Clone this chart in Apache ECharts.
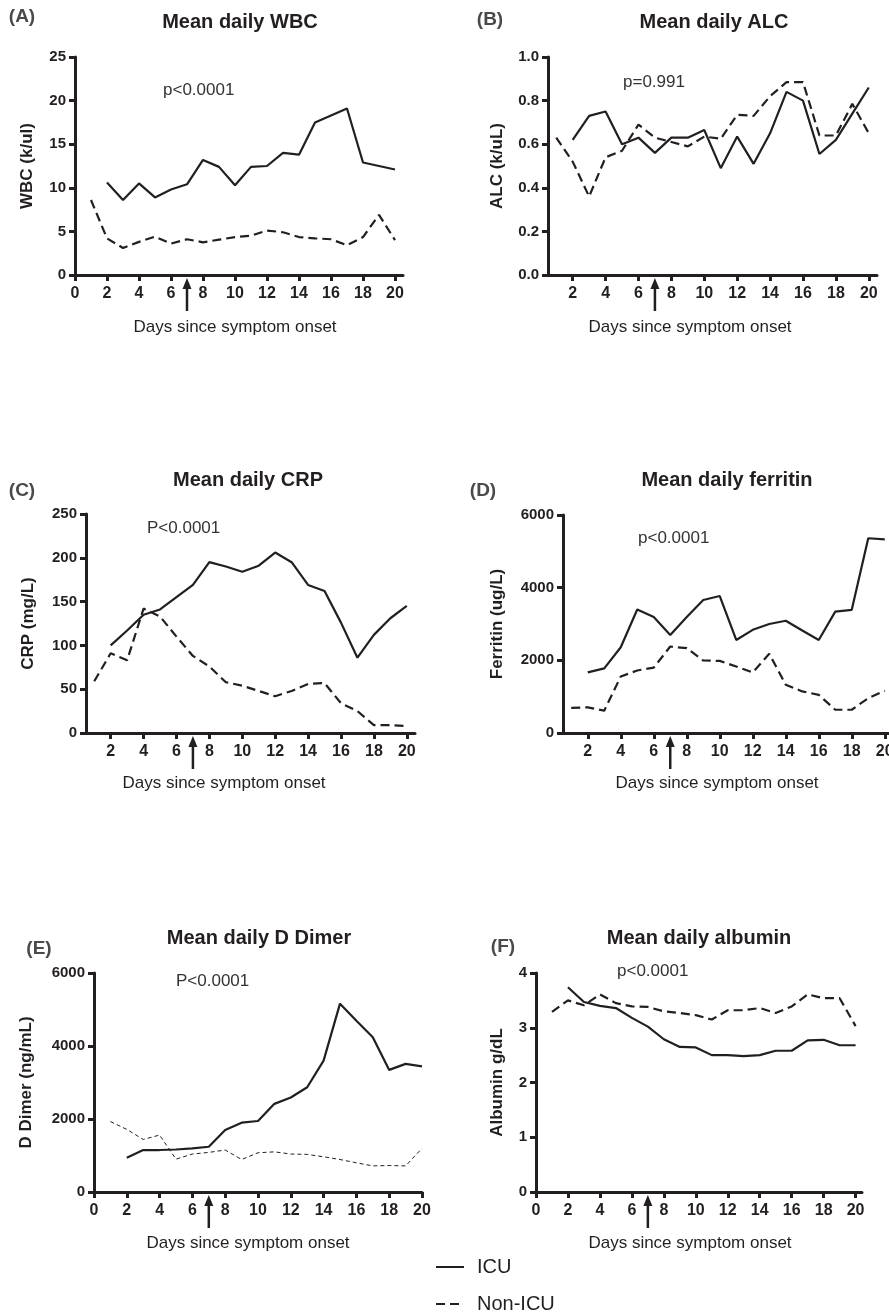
<!DOCTYPE html>
<html>
<head>
<meta charset="utf-8">
<script src="https://cdn.jsdelivr.net/npm/echarts@6/dist/echarts.min.js"></script>
<style>
  html, body { margin: 0; background: #fff; }
  #chart { width: 889px; height: 1314px; }
</style>
</head>
<body>
<div id="chart"></div>
<script>
// days since symptom onset
const days = [1, 2, 3, 4, 5, 6, 7, 8, 9, 10, 11, 12, 13, 14, 15, 16, 17, 18, 19, 20];
const ticksFrom0 = [0, 2, 4, 6, 8, 10, 12, 14, 16, 18, 20];
const ticksFrom2 = [2, 4, 6, 8, 10, 12, 14, 16, 18, 20];

// mean daily values (ICU has no day 1)
const wbcIcu = [null, 10.6, 8.6, 10.5, 8.9, 9.8, 10.4, 13.2, 12.4, 10.3, 12.4, 12.5, 14.0, 13.8, 17.5, 18.3, 19.1, 12.9, 12.5, 12.1];
const wbcNon = [8.6, 4.2, 3.1, 3.8, 4.4, 3.6, 4.1, 3.75, 4.05, 4.35, 4.5, 5.1, 4.9, 4.35, 4.2, 4.1, 3.4, 4.35, 6.9, 4.0];

const alcIcu = [null, 0.62, 0.73, 0.75, 0.60, 0.63, 0.56, 0.63, 0.63, 0.665, 0.49, 0.635, 0.51, 0.65, 0.84, 0.80, 0.555, 0.62, 0.74, 0.86];
const alcNon = [0.63, 0.52, 0.36, 0.54, 0.57, 0.69, 0.63, 0.61, 0.59, 0.635, 0.625, 0.735, 0.73, 0.82, 0.885, 0.885, 0.64, 0.64, 0.785, 0.65];

const crpIcu = [null, 100, 117, 135, 141, 155, 169, 195, 190, 184, 191, 206, 195, 169, 162, 126, 86, 112, 131, 145];
const crpNon = [59, 91, 83, 142, 133, 110, 88, 76, 58, 54, 48, 42, 48, 56, 57, 34, 25, 9, 9, 8];

const ferIcu = [null, 1670, 1780, 2360, 3400, 3190, 2700, 3190, 3660, 3770, 2560, 2840, 3000, 3090, 2820, 2560, 3340, 3390, 5360, 5330];
const ferNon = [690, 705, 615, 1555, 1720, 1800, 2380, 2335, 1995, 1985, 1830, 1665, 2180, 1330, 1145, 1050, 640, 640, 960, 1160];

const ddIcu = [null, 940, 1150, 1150, 1165, 1195, 1240, 1700, 1900, 1945, 2415, 2590, 2870, 3600, 5160, 4690, 4240, 3345, 3510, 3440];
const ddNon = [1930, 1715, 1440, 1560, 900, 1040, 1085, 1150, 890, 1075, 1100, 1040, 1030, 965, 890, 800, 715, 725, 715, 1195];

const albIcu = [null, 3.74, 3.47, 3.40, 3.36, 3.18, 3.02, 2.79, 2.65, 2.64, 2.50, 2.50, 2.48, 2.50, 2.58, 2.58, 2.77, 2.78, 2.68, 2.68];
const albNon = [3.29, 3.50, 3.41, 3.61, 3.45, 3.39, 3.38, 3.30, 3.27, 3.23, 3.15, 3.32, 3.32, 3.36, 3.27, 3.39, 3.61, 3.54, 3.54, 3.03];

const INK = '#231f20';
const FONT = 'Arial, "Liberation Sans", sans-serif';

// one entry per panel
const panels = [
  { letter: '(A)', title: 'Mean daily WBC', yName: 'WBC (k/ul)', p: 'p<0.0001', icu: wbcIcu, non: wbcNon,
    yMax: 25, yStep: 5, digits: 0, xMin: 0, xMax: 20.5, xTicks: ticksFrom0,
    grid: [75, 57, 328, 218], yGap: 39, letterAt: [22, 17], titleAt: [240, 22], pAt: [163, 90], xNameAt: [235, 327] },
  { letter: '(B)', title: 'Mean daily ALC', yName: 'ALC (k/uL)', p: 'p=0.991', icu: alcIcu, non: alcNon,
    yMax: 1, yStep: 0.2, digits: 1, xMin: 0.5, xMax: 20.5, xTicks: ticksFrom2,
    grid: [548, 57, 329, 218], yGap: 42, letterAt: [490, 20], titleAt: [714, 22], pAt: [623, 82], xNameAt: [690, 327] },
  { letter: '(C)', title: 'Mean daily CRP', yName: 'CRP (mg/L)', p: 'P<0.0001', icu: crpIcu, non: crpNon,
    yMax: 250, yStep: 50, digits: 0, xMin: 0.5, xMax: 20.5, xTicks: ticksFrom2,
    grid: [86, 514, 329, 219], yGap: 49, letterAt: [22, 491], titleAt: [248, 480], pAt: [147, 528], xNameAt: [224, 783] },
  { letter: '(D)', title: 'Mean daily ferritin', yName: 'Ferritin (ug/L)', p: 'p<0.0001', icu: ferIcu, non: ferNon,
    yMax: 6000, yStep: 2000, digits: 0, xMin: 0.5, xMax: 20.5, xTicks: ticksFrom2,
    grid: [563, 515, 330, 218], yGap: 57, letterAt: [483, 491], titleAt: [727, 480], pAt: [638, 538], xNameAt: [717, 783] },
  { letter: '(E)', title: 'Mean daily D Dimer', yName: 'D Dimer (ng/mL)', p: 'P<0.0001', icu: ddIcu, non: ddNon,
    yMax: 6000, yStep: 2000, digits: 0, xMin: 0, xMax: 20, xTicks: ticksFrom0, thin: true,
    grid: [94, 973, 328, 219], yGap: 59, letterAt: [39, 949], titleAt: [259, 938], pAt: [176, 981], xNameAt: [248, 1243] },
  { letter: '(F)', title: 'Mean daily albumin', yName: 'Albumin g/dL', p: 'p<0.0001', icu: albIcu, non: albNon,
    yMax: 4, yStep: 1, digits: 0, xMin: 0, xMax: 20.4, xTicks: ticksFrom0,
    grid: [536, 973, 326, 219], yGap: 30, letterAt: [503, 947], titleAt: [699, 938], pAt: [617, 971], xNameAt: [690, 1243] }
];

const chart = echarts.init(document.getElementById('chart'), null, { renderer: 'canvas' });

const axisLine = { show: true, onZero: false, lineStyle: { color: INK, width: 3 } };
const axisTick = { show: true, length: 6, lineStyle: { color: INK, width: 3 } };
const tickFont = { color: INK, fontWeight: 'bold', fontFamily: FONT };

const grid = [], xAxis = [], yAxis = [], series = [];
panels.forEach((p, i) => {
  grid.push({ left: p.grid[0], top: p.grid[1], width: p.grid[2], height: p.grid[3],
    containLabel: false, outerBoundsMode: 'none' });
  xAxis.push({
    type: 'value', gridIndex: i, min: p.xMin, max: p.xMax,
    axisLine: axisLine,
    axisTick: Object.assign({ customValues: p.xTicks }, axisTick),
    axisLabel: Object.assign({ customValues: p.xTicks, margin: 11, fontSize: 16 }, tickFont),
    splitLine: { show: false }
  });
  yAxis.push({
    type: 'value', gridIndex: i, min: 0, max: p.yMax, interval: p.yStep,
    name: p.yName, nameLocation: 'middle', nameGap: p.yGap,
    nameTextStyle: { color: INK, fontSize: 17, fontWeight: 'bold', fontFamily: FONT },
    axisLine: axisLine, axisTick: axisTick,
    axisLabel: Object.assign({ margin: 9, fontSize: 15, formatter: v => v.toFixed(p.digits) }, tickFont),
    splitLine: { show: false }
  });
  const pts = arr => days.map((d, k) => [d, arr[k]]).filter(pt => pt[1] != null);
  series.push({
    name: 'ICU', type: 'line', xAxisIndex: i, yAxisIndex: i, data: pts(p.icu),
    symbol: 'none', silent: true, itemStyle: { color: INK },
    lineStyle: { color: INK, width: 2.2 }
  });
  series.push({
    name: 'Non-ICU', type: 'line', xAxisIndex: i, yAxisIndex: i, data: pts(p.non),
    symbol: 'none', silent: true, itemStyle: { color: INK },
    lineStyle: { color: INK, width: p.thin ? 1 : 2.2, type: p.thin ? [4, 3] : [9, 5] }
  });
});

chart.setOption({
  animation: false,
  backgroundColor: '#fff',
  textStyle: { fontFamily: FONT },
  legend: {
    data: ['ICU', 'Non-ICU'], orient: 'vertical', left: 435, top: 1257, padding: 0,
    itemWidth: 28, itemHeight: 14, itemGap: 17, selectedMode: false,
    itemStyle: { opacity: 0 },
    textStyle: { color: INK, fontSize: 20, lineHeight: 20, fontFamily: FONT, padding: [0, 0, 0, 8] }
  },
  grid: grid,
  xAxis: xAxis,
  yAxis: yAxis,
  series: series
});

// text labels and the day-7 arrow under each x axis
const gfx = [];
const txt = (x, y, text, font, fill, align) => ({
  type: 'text', x: x, y: y, silent: true,
  style: { text: text, font: font, fill: fill, align: align, textAlign: align,
           verticalAlign: 'middle', textVerticalAlign: 'middle' }
});
panels.forEach((p, i) => {
  gfx.push(txt(p.letterAt[0], p.letterAt[1], p.letter, 'bold 19px ' + FONT, '#4a4a4a', 'center'));
  gfx.push(txt(p.titleAt[0], p.titleAt[1], p.title, 'bold 20px ' + FONT, INK, 'center'));
  gfx.push(txt(p.pAt[0], p.pAt[1], p.p, '17px ' + FONT, '#333', 'left'));
  gfx.push(txt(p.xNameAt[0], p.xNameAt[1], 'Days since symptom onset', '17px ' + FONT, INK, 'center'));
  const [ax, ay] = chart.convertToPixel({ gridIndex: i }, [7, 0]);
  gfx.push({ type: 'line', silent: true, shape: { x1: ax, y1: ay + 10, x2: ax, y2: ay + 36 },
    style: { stroke: INK, lineWidth: 2.5 } });
  gfx.push({ type: 'polygon', silent: true,
    shape: { points: [[ax, ay + 3], [ax - 4.5, ay + 14], [ax + 4.5, ay + 14]] },
    style: { fill: INK } });
});
chart.setOption({ graphic: { elements: gfx } });
</script>
</body>
</html>
